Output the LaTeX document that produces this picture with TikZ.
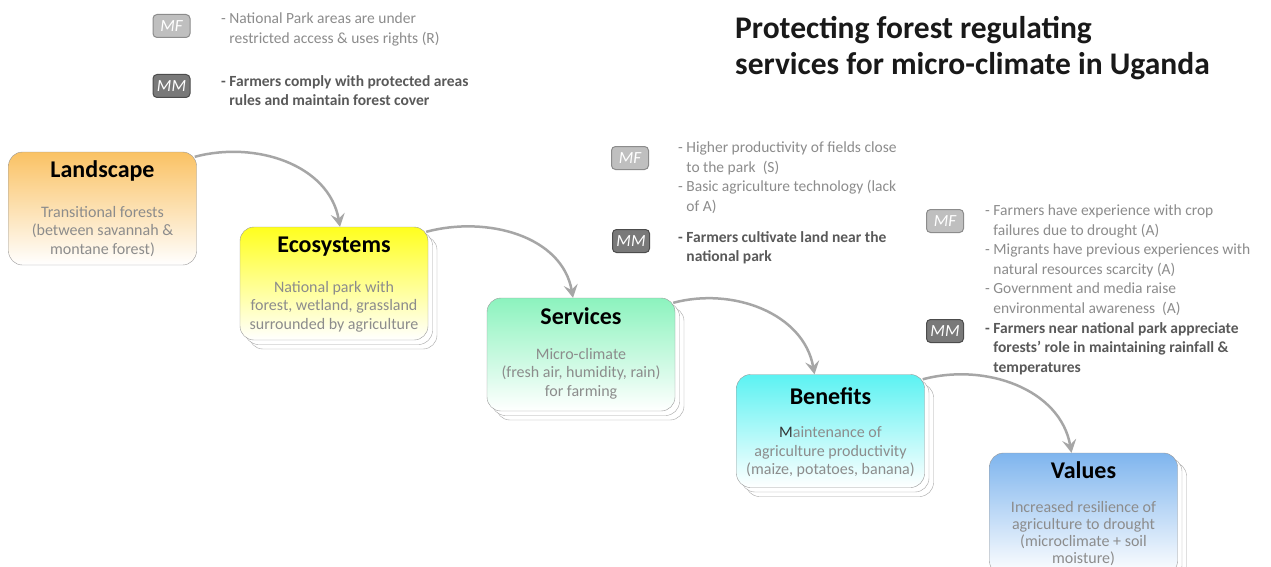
\documentclass[tikz,border=0pt]{standalone}
\usepackage{fontspec}
\setmainfont{Carlito}
\usetikzlibrary{arrows.meta, positioning, shadows}
\definecolor{landcol}{HTML}{FAC264}
\definecolor{ecocol}{HTML}{FFFF1E}
\definecolor{servcol}{HTML}{8CF3BE}
\definecolor{benecol}{HTML}{5CF2F2}
\definecolor{valcol}{HTML}{7FB5EE}
\definecolor{notegray}{HTML}{8C8C8C}
\definecolor{mmgray}{HTML}{595959}
\definecolor{arrowgray}{HTML}{A6A6A6}

\tikzset{
  stage/.style={draw=gray!80, rounded corners=14pt, minimum width=188pt,
    minimum height=113pt, top color=#1, bottom color=white},
  stack/.style={double copy shadow={shadow xshift=4.5pt, shadow yshift=-4.5pt,
    fill=white, draw=gray!70}},
  stagetitle/.style={font=\bfseries\fontsize{24}{28}\selectfont, inner sep=0pt},
  stagetext/.style={text=notegray, align=center, inner sep=0pt,
    font=\fontsize{16}{18.5}\selectfont},
  flow/.style={draw=arrowgray, line width=2.5pt,
    -{Stealth[length=13pt, width=14pt, inset=5pt]}},
  tag/.style={rounded corners=4pt, minimum width=37pt, minimum height=23pt,
    line width=1pt, text=white, font=\itshape\fontsize{17}{17}\selectfont},
  mftag/.style={tag, fill=gray!50, draw=gray!90},
  mmtag/.style={tag, fill=gray!95!black, draw=black!70},
  mfnote/.style={anchor=north west, align=left, text=notegray, inner sep=0pt,
    font=\fontsize{15.5}{19.5}\selectfont},
  mmnote/.style={mfnote, text=mmgray, font=\bfseries\fontsize{15.5}{19.5}\selectfont},
}

\begin{document}
\begin{tikzpicture}[x=1pt, y=1pt]
  \fill[white] (0,0) rectangle (1271,-567);
  \useasboundingbox (0,0) rectangle (1271,-567);

  % title
  \node[anchor=north west, align=left, inner sep=0pt, text=black!90,
    font=\bfseries\fontsize{31.5}{36}\selectfont] (title) at (735,-16)
    {Protecting forest regulating\\services for micro-climate in Uganda};

  % stages
  \node[stage=landcol] (land) at (102.5,-208.5) {};
  \node[stage=ecocol, stack] (eco) at (334,-283.5) {};
  \node[stage=servcol, stack] (serv) at (581,-354.5) {};
  \node[stage=benecol, stack] (bene) at (830.5,-431) {};
  \node[stage=valcol, stack, minimum height=122pt] (val) at (1083.5,-514) {};

  \node[stagetitle, anchor=base] (land-t) at ([yshift=-26pt]land.north) {Landscape};
  \node[stagetext, anchor=north] (land-b) at ([yshift=-54pt]land.north)
    {Transitional forests\\(between savannah \&\\montane forest)};
  \node[stagetitle, anchor=base] (eco-t) at ([yshift=-26pt]eco.north) {Ecosystems};
  \node[stagetext, anchor=north] (eco-b) at ([yshift=-54pt]eco.north)
    {National park with\\forest, wetland, grassland\\surrounded by agriculture};
  \node[stagetitle, anchor=base] (serv-t) at ([yshift=-27pt]serv.north) {Services};
  \node[stagetext, anchor=north] (serv-b) at ([yshift=-50pt]serv.north)
    {Micro-climate\\(fresh air, humidity, rain)\\for farming};
  \node[stagetitle, anchor=base] (bene-t) at ([yshift=-30pt]bene.north) {Benefits};
  \node[stagetext, anchor=north] (bene-b) at ([yshift=-52pt]bene.north)
    {{\color{black!80}M}aintenance of\\agriculture productivity\\(maize, potatoes, banana)};
  \node[stagetitle, anchor=base] (val-t) at ([yshift=-26pt]val.north) {Values};
  \node[stagetext, anchor=north, font=\fontsize{16}{17}\selectfont] (val-b)
    at ([yshift=-48pt]val.north)
    {Increased resilience of\\agriculture to drought\\(microclimate + soil\\moisture)};

  % arrows
  \draw[flow] ([xshift=-2pt, yshift=-5pt]land.north east) to[out=15, in=100] ([xshift=6pt]eco.north);
  \draw[flow] ([xshift=-2pt, yshift=-5pt]eco.north east) to[out=15, in=100] ([xshift=-8pt]serv.north);
  \draw[flow] ([xshift=-2pt, yshift=-5pt]serv.north east) to[out=15, in=100] ([xshift=-16pt]bene.north);
  \draw[flow] ([xshift=-2pt, yshift=-5pt]bene.north east) to[out=15, in=100] ([xshift=-12pt]val.north);

  % mediating factors and mechanisms
  \node[mftag] (mf1) at (171.5,-26) {MF};
  \node[mfnote] (mf1-t) at (221,-13)
    {- National Park areas are under\\\phantom{- }restricted access \& uses rights (R)};
  \node[mmtag] (mm1) at (171.5,-86) {MM};
  \node[mmnote] (mm1-t) at (221,-75)
    {- Farmers comply with protected areas\\\phantom{- }rules and maintain forest cover};

  \node[mftag] (mf2) at (630,-158) {MF};
  \node[mfnote] (mf2-t) at (678,-142)
    {- Higher productivity of fields close\\\phantom{- }to the park\ \ (S)\\
     - Basic agriculture technology (lack\\\phantom{- }of A)};
  \node[mmtag] (mm2) at (631,-241) {MM};
  \node[mmnote] (mm2-t) at (678,-231)
    {- Farmers cultivate land near the\\\phantom{- }national park};

  \node[mftag] (mf3) at (945,-221) {MF};
  \node[mfnote] (mf3-t) at (985,-205)
    {- Farmers have experience with crop\\\phantom{- }failures due to drought (A)\\
     - Migrants have previous experiences with\\\phantom{- }natural resources scarcity (A)\\
     - Government and media raise\\\phantom{- }environmental awareness\ \ (A)};
  \node[mmtag] (mm3) at (945,-331) {MM};
  \node[mmnote] (mm3-t) at (985,-322)
    {- Farmers near national park appreciate\\\phantom{- }forests' role in maintaining rainfall \&\\\phantom{- }temperatures};
\end{tikzpicture}
\end{document}
